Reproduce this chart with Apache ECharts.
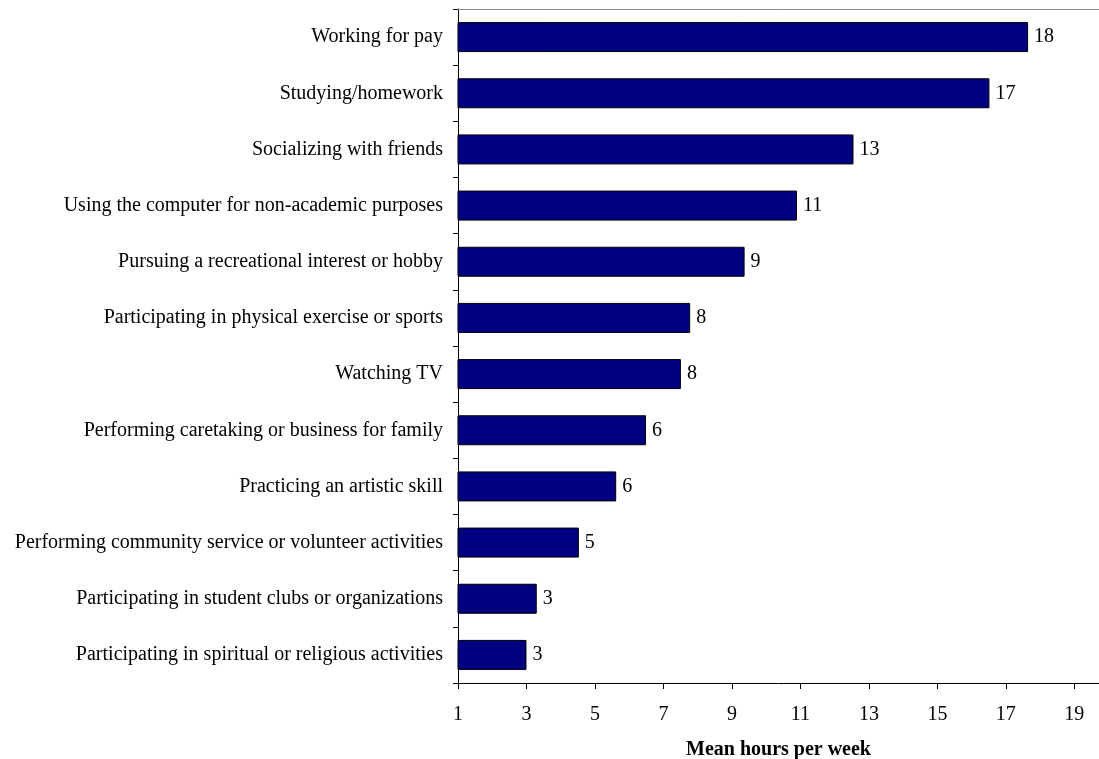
<!DOCTYPE html>
<html>
<head>
<meta charset="utf-8">
<script src="https://cdn.jsdelivr.net/npm/echarts@6/dist/echarts.min.js"></script>
<style>
  html, body { margin: 0; padding: 0; background: #fff; }
  #chart { width: 1099px; height: 759px; }
</style>
</head>
<body>
<div id="chart"></div>
<script>
var activities = [
    'Working for pay',
    'Studying/homework',
    'Socializing with friends',
    'Using the computer for non-academic purposes',
    'Pursuing a recreational interest or hobby',
    'Participating in physical exercise or sports',
    'Watching TV',
    'Performing caretaking or business for family',
    'Practicing an artistic skill',
    'Performing community service or volunteer activities',
    'Participating in student clubs or organizations',
    'Participating in spiritual or religious activities'
];

// mean hours per week
var meanHours = [17.65, 16.52, 12.55, 10.90, 9.37, 7.78, 7.51, 6.49, 5.62, 4.53, 3.30, 3.00];

var axisTitle = 'Mean hours per week';

var myChart = echarts.init(document.getElementById('chart'));

var font = '"Liberation Serif", "Times New Roman", serif';

var option = {
    animation: false,
    grid: {
        left: 458,
        top: 9,
        bottom: 76,
        right: 0,
        outerBoundsMode: 'none'
    },
    xAxis: [
        {
            type: 'value',
            min: 1,
            max: 19.72,   // plot is cut at the right edge of the picture
            interval: 2,
            name: axisTitle,
            nameLocation: 'middle',
            nameGap: 57,
            nameTextStyle: {
                fontFamily: font,
                fontSize: 20,
                fontWeight: 'bold',
                color: '#000'
            },
            axisLine: { show: true, lineStyle: { color: '#000', width: 1 } },
            axisTick: { show: true, inside: false, length: 6, lineStyle: { color: '#000' } },
            splitLine: { show: false },
            axisLabel: {
                showMaxLabel: false,
                margin: 22,
                fontFamily: font,
                fontSize: 20,
                color: '#000'
            }
        },
        {
            // grey top border of the plot area
            type: 'value',
            position: 'top',
            min: 1,
            max: 19.72,
            axisLine: { show: true, onZero: false, lineStyle: { color: '#8c8c8c', width: 1 } },
            axisTick: { show: false },
            axisLabel: { show: false },
            splitLine: { show: false }
        }
    ],
    yAxis: {
        type: 'category',
        inverse: true,
        data: activities,
        axisLine: { show: true, lineStyle: { color: '#000', width: 1 } },
        axisTick: { show: true, length: 5, lineStyle: { color: '#000' } },
        axisLabel: {
            margin: 15,
            fontFamily: font,
            fontSize: 20,
            color: '#000'
        }
    },
    series: [
        {
            type: 'bar',
            data: meanHours,
            barWidth: 30,
            itemStyle: {
                color: '#000080',
                borderColor: '#000',
                borderWidth: 1
            },
            label: {
                show: true,
                position: 'right',
                distance: 6,
                fontFamily: font,
                fontSize: 20,
                color: '#000',
                formatter: function (p) {
                    return Math.round(p.value);
                }
            }
        }
    ]
};

myChart.setOption(option);
</script>
</body>
</html>
